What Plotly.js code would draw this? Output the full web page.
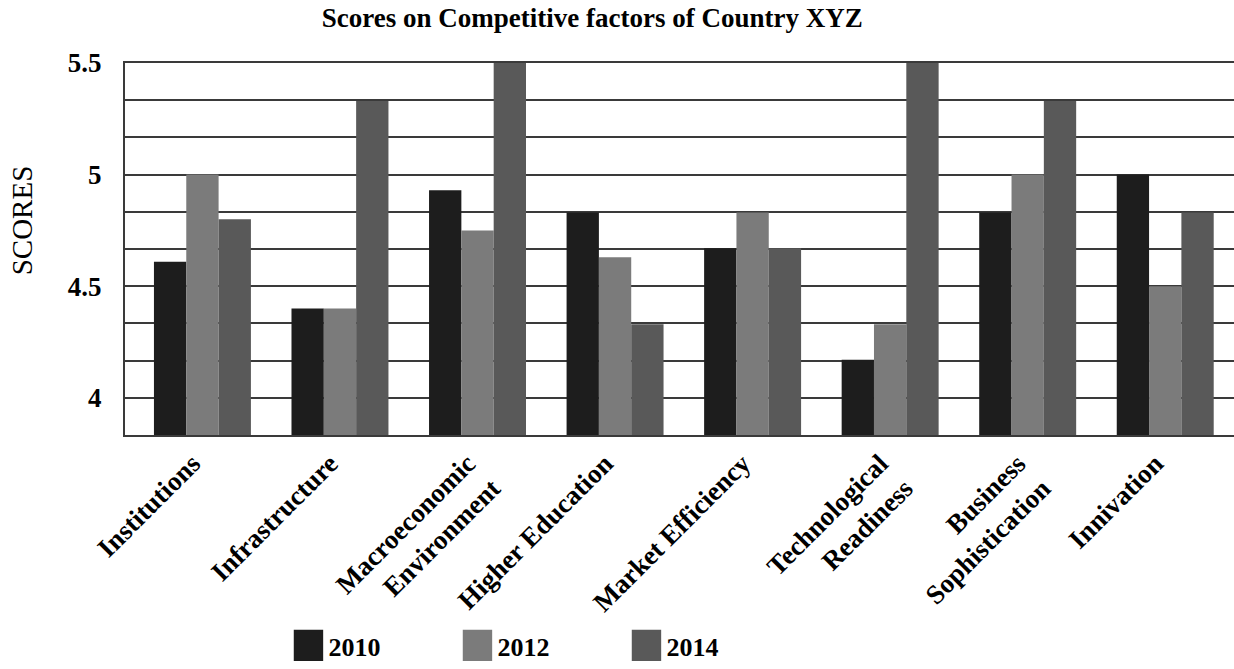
<!DOCTYPE html>
<html>
<head>
<meta charset="utf-8">
<script src="https://cdn.plot.ly/plotly-3.0.1.min.js"></script>
<style>
  html, body { margin: 0; padding: 0; background: #ffffff; }
  #chart { width: 1234px; height: 669px; }
  #chart .legend .legendpoints path { transform: translate(20px, 0px) scale(2.45, 2.6); }
</style>
</head>
<body>
<div id="chart"></div>
<script>
const categories = [
  "Institutions",
  "Infrastructure",
  "Macroeconomic<br>Environment",
  "Higher Education",
  "Market Efficiency",
  "Technological<br>Readiness",
  "Business<br>Sophistication",
  "Innivation"
];
const years = ["2010", "2012", "2014"];
const scores2010 = [4.61, 4.40, 4.93, 4.83, 4.67, 4.17, 4.83, 5.00];
const scores2012 = [5.00, 4.40, 4.75, 4.63, 4.83, 4.33, 5.00, 4.50];
const scores2014 = [4.80, 5.33, 5.50, 4.33, 4.67, 5.50, 5.33, 4.83];
const yTickVals = [4, 4.5, 5, 5.5];
const yTickText = ["4", "4.5", "5", "5.5"];

const colors = ["#1d1d1d", "#7b7b7b", "#595959"];
const series = [scores2010, scores2012, scores2014];
const serif = '"Liberation Serif", "Times New Roman", Times, serif';

const traces = series.map((vals, i) => ({
  type: "bar",
  name: years[i],
  x: categories,
  y: vals,
  marker: { color: colors[i], line: { width: 0 } },
  hoverinfo: "x+y+name"
}));

const gridColor = "#3a3a3a";

const layout = {
  width: 1234,
  height: 669,
  paper_bgcolor: "#ffffff",
  plot_bgcolor: "#ffffff",
  margin: { l: 125, r: 0, t: 63, b: 231, pad: 0 },
  barmode: "group",
  bargap: 0.295,
  bargroupgap: 0,
  font: { family: serif, color: "#000000" },
  title: {
    text: "Scores on Competitive factors of Country XYZ",
    font: { family: serif, size: 27, weight: "bold", color: "#000000" },
    xref: "container", x: 0.48, xanchor: "center",
    yref: "container", y: 0.974, yanchor: "middle"
  },
  xaxis: {
    type: "category",
    range: [-0.563, 7.5],
    tickangle: -45,
    ticks: "",
    ticklabelshift: -10,
    tickfont: { family: serif, size: 27, weight: "bold", color: "#000000" },
    showgrid: false,
    showline: true,
    linecolor: gridColor,
    linewidth: 2,
    mirror: true,
    zeroline: false,
    automargin: false
  },
  yaxis: {
    range: [3.8333, 5.5],
    tickmode: "array",
    tickvals: yTickVals,
    ticktext: yTickText,
    ticks: "",
    ticklabelstandoff: 16,
    tickfont: { family: serif, size: 27, weight: "bold", color: "#000000" },
    showgrid: true,
    gridcolor: gridColor,
    gridwidth: 2,
    minor: { tick0: 4, dtick: 1 / 6, showgrid: true, gridcolor: gridColor, gridwidth: 2, ticks: "" },
    showline: true,
    linecolor: gridColor,
    linewidth: 2,
    mirror: false,
    zeroline: false,
    automargin: false
  },
  annotations: [{
    text: "SCORES",
    textangle: -90,
    xref: "paper", x: -0.0929, xanchor: "center",
    yref: "paper", y: 0.577, yanchor: "middle",
    showarrow: false,
    font: { family: serif, size: 29, color: "#000000" }
  }],
  showlegend: true,
  legend: {
    orientation: "h",
    x: 0.1474, xanchor: "left",
    y: -0.567, yanchor: "middle",
    font: { family: serif, size: 26, weight: "bold", color: "#000000" },
    entrywidth: 124,
    entrywidthmode: "pixels",
    itemclick: false,
    itemdoubleclick: false,
    bgcolor: "rgba(0,0,0,0)"
  }
};

Plotly.newPlot("chart", traces, layout, { displayModeBar: false, responsive: false });
</script>
</body>
</html>
